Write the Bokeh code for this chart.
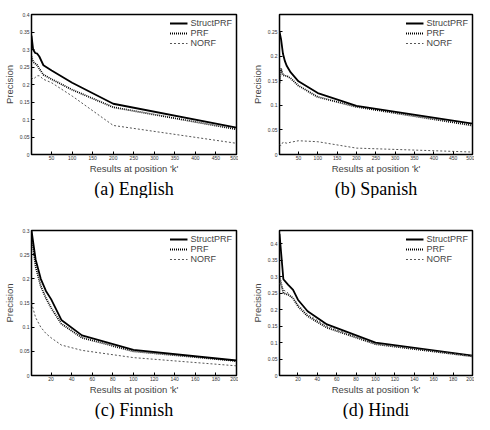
from bokeh.plotting import figure
from bokeh.layouts import column, row
from bokeh.models import FixedTicker, NumeralTickFormatter, Title, Legend, LegendItem, Range1d
from bokeh.embed import file_html
from bokeh.resources import INLINE

K_LONG = [1, 5, 10, 15, 20, 30, 50, 100, 200, 500]
K_SHORT = [1, 5, 10, 15, 20, 30, 50, 100, 200]

EN_STRUCT = [0.34, 0.30, 0.29, 0.288, 0.28, 0.255, 0.24, 0.205, 0.145, 0.077]
EN_PRF = [0.28, 0.265, 0.26, 0.255, 0.245, 0.228, 0.215, 0.185, 0.135, 0.072]
EN_NORF = [0.22, 0.215, 0.22, 0.225, 0.225, 0.215, 0.205, 0.167, 0.083, 0.032]

ES_STRUCT = [0.25, 0.235, 0.205, 0.19, 0.18, 0.167, 0.149, 0.125, 0.099, 0.063]
ES_PRF = [0.145, 0.175, 0.162, 0.16, 0.16, 0.155, 0.14, 0.117, 0.097, 0.059]
ES_NORF = [0.02, 0.018, 0.025, 0.024, 0.023, 0.025, 0.028, 0.026, 0.013, 0.005]

FI_STRUCT = [0.30, 0.24, 0.20, 0.175, 0.158, 0.115, 0.083, 0.053, 0.031]
FI_PRF = [0.29, 0.225, 0.185, 0.16, 0.14, 0.107, 0.078, 0.05, 0.03]
FI_NORF = [0.15, 0.12, 0.10, 0.087, 0.078, 0.063, 0.052, 0.037, 0.02]

HI_STRUCT = [0.43, 0.292, 0.275, 0.26, 0.23, 0.195, 0.155, 0.10, 0.06]
HI_PRF = [0.30, 0.25, 0.245, 0.235, 0.21, 0.18, 0.145, 0.095, 0.058]
HI_NORF = [0.28, 0.26, 0.25, 0.235, 0.215, 0.185, 0.15, 0.096, 0.059]

SERIES = ["StructPRF", "PRF", "NORF"]
X_TICKS_LONG = [50, 100, 150, 200, 250, 300, 350, 400, 450, 500]
X_TICKS_SHORT = [20, 40, 60, 80, 100, 120, 140, 160, 180, 200]
Y_TICKS_04 = [0, 0.05, 0.1, 0.15, 0.2, 0.25, 0.3, 0.35, 0.4]
Y_TICKS_03 = [0, 0.05, 0.1, 0.15, 0.2, 0.25, 0.3]
Y_TICKS_025 = [0, 0.05, 0.1, 0.15, 0.2, 0.25]
CAPTIONS = ["(a) English", "(b) Spanish", "(c) Finnish", "(d) Hindi"]

SANS = "Liberation Sans"
SERIF = "Liberation Serif"

STYLES = [
    dict(line_color="black", line_width=1.8, line_dash="solid"),
    dict(line_color="black", line_width=1.8, line_dash="1 1"),
    dict(line_color="#555555", line_width=1.0, line_dash="2 2"),
]


def panel(k, ys, xmax, ymax, xticks, yticks, caption, left, fw, top, fh):
    p = figure(frame_width=fw, frame_height=fh, min_border_left=left,
               min_border_right=2, min_border_top=top, min_border_bottom=0,
               output_backend="svg", toolbar_location=None,
               x_range=Range1d(1, xmax), y_range=Range1d(0, ymax))
    p.grid.visible = False
    p.outline_line_color = "black"
    p.outline_line_width = 1.5
    p.background_fill_color = "white"
    p.border_fill_color = "white"
    for ax in (p.xaxis[0], p.yaxis[0]):
        ax.axis_line_color = None
        ax.major_tick_in = 3
        ax.major_tick_out = 0
        ax.minor_tick_line_color = None
        ax.major_label_text_font = SANS
        ax.major_label_text_font_size = "5px"
        ax.major_label_text_color = "#333333"
        ax.major_label_standoff = 2
        ax.axis_label_text_font = SANS
        ax.axis_label_text_font_size = "9.5px"
        ax.axis_label_text_font_style = "normal"
        ax.axis_label_standoff = 2
    p.xaxis[0].axis_label_standoff = 0
    p.xaxis[0].major_label_standoff = 1
    p.xaxis.ticker = FixedTicker(ticks=xticks)
    p.yaxis.ticker = FixedTicker(ticks=yticks)
    p.yaxis.formatter = NumeralTickFormatter(format="0.[00]")
    p.xaxis.axis_label = "Results at position 'k'"
    p.yaxis.axis_label = "Precision"
    items = []
    for name, y, st in zip(SERIES, ys, STYLES):
        r = p.line(k, y, **st)
        items.append(LegendItem(label=name, renderers=[r]))
    leg = Legend(items=items, location="top_right", label_text_font=SANS,
                 label_text_font_size="9px", glyph_width=18, glyph_height=8,
                 label_height=8, spacing=0, padding=2, margin=2,
                 background_fill_alpha=0, border_line_alpha=0,
                 label_standoff=3)
    p.add_layout(leg)
    t = Title(text=caption, align="center", text_font=SERIF,
              text_font_size="18px", text_font_style="normal",
              text_color="black", standoff=0, text_line_height=0.7)
    p.add_layout(t, "below")
    return p


pa = panel(K_LONG, [EN_STRUCT, EN_PRF, EN_NORF], 500, 0.4,
           X_TICKS_LONG, Y_TICKS_04, CAPTIONS[0], 30, 205, 14, 140)
pb = panel(K_LONG, [ES_STRUCT, ES_PRF, ES_NORF], 500, 0.285,
           X_TICKS_LONG, Y_TICKS_025, CAPTIONS[1], 41, 193, 14, 140)
pc = panel(K_SHORT, [FI_STRUCT, FI_PRF, FI_NORF], 200, 0.3,
           X_TICKS_SHORT, Y_TICKS_03, CAPTIONS[2], 30, 205, 32, 145)
pd = panel(K_SHORT, [HI_STRUCT, HI_PRF, HI_NORF], 200, 0.44,
           X_TICKS_SHORT, Y_TICKS_04, CAPTIONS[3], 41, 193, 32, 145)

layout = column(row(pa, pb, spacing=0), row(pc, pd, spacing=0), spacing=0)

open("out.html", "w").write(file_html(layout, INLINE))
